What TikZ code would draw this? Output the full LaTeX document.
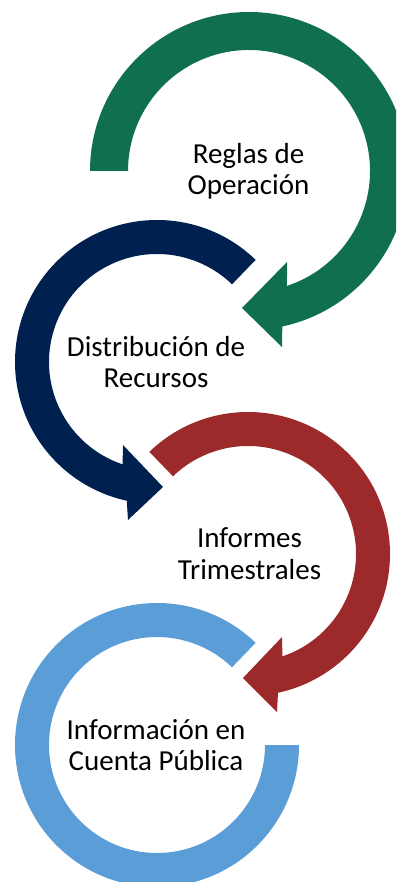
\documentclass[tikz,border=0pt]{standalone}
\usepackage{fontspec}
\setmainfont{Carlito}
\usetikzlibrary{calc}
\definecolor{cgreen}{RGB}{16,111,81}
\definecolor{cnavy}{RGB}{0,33,80}
\definecolor{cred}{RGB}{157,42,43}
\definecolor{cblue}{RGB}{91,157,214}
\begin{document}
\begin{tikzpicture}[x=1pt,y=1pt,
  lbl/.style={font=\fontsize{29}{31.5}\selectfont, align=center, text=black, inner sep=0pt}]
\useasboundingbox (0,0) rectangle (396,-882);
\clip (0,0) rectangle (396,-882);
% centres
\coordinate (cg) at (249,-171);
\coordinate (cn) at (157,-362);
\coordinate (cr) at (248,-554);
\coordinate (cb) at (157,-745);
% arrow heads
\coordinate (gw1) at (282,-347); \coordinate (gt) at (242,-308); \coordinate (gw2) at (287,-262);
\coordinate (nw1) at (128,-520); \coordinate (nt) at (163,-487); \coordinate (nw2) at (123,-445);
\coordinate (rw1) at (277,-712); \coordinate (rt) at (243,-678); \coordinate (rw2) at (282,-637);
% green
\fill[cgreen] ($(cg)+(180:159)$) arc[start angle=180,end angle=-77.9,radius=159]
  -- (gw1) -- (gt) -- (gw2) -- ($(cg)+(-71.7:121)$)
  arc[start angle=-71.7,end angle=180,radius=121] -- cycle;
% navy
\fill[cnavy] ($(cn)+(46:142)$) arc[start angle=46,end angle=257.7,radius=142]
  -- (nw1) -- (nt) -- (nw2) -- ($(cn)+(251.4:108)$)
  arc[start angle=251.4,end angle=46,radius=108] -- cycle;
% red
\fill[cred] ($(cr)+(134:142)$) arc[start angle=134,end angle=-77.8,radius=142]
  -- (rw1) -- (rt) -- (rw2) -- ($(cr)+(-71.4:108)$)
  arc[start angle=-71.4,end angle=134,radius=108] -- cycle;
% light blue
\fill[cblue] ($(cb)+(46:142)$) arc[start angle=46,end angle=360,radius=142]
  -- ($(cb)+(0:108)$) arc[start angle=360,end angle=46,radius=108] -- cycle;
% labels
\node[lbl] (t1) at (248.5,-171.5) {Reglas de\\Operación};
\node[lbl] (t2) at (156,-362) {Distribución de\\Recursos};
\node[lbl] (t3) at (249.5,-553.5) {Informes\\Trimestrales};
\node[lbl] (t4) at (156,-745) {Información en\\Cuenta Pública};
\end{tikzpicture}
\end{document}
